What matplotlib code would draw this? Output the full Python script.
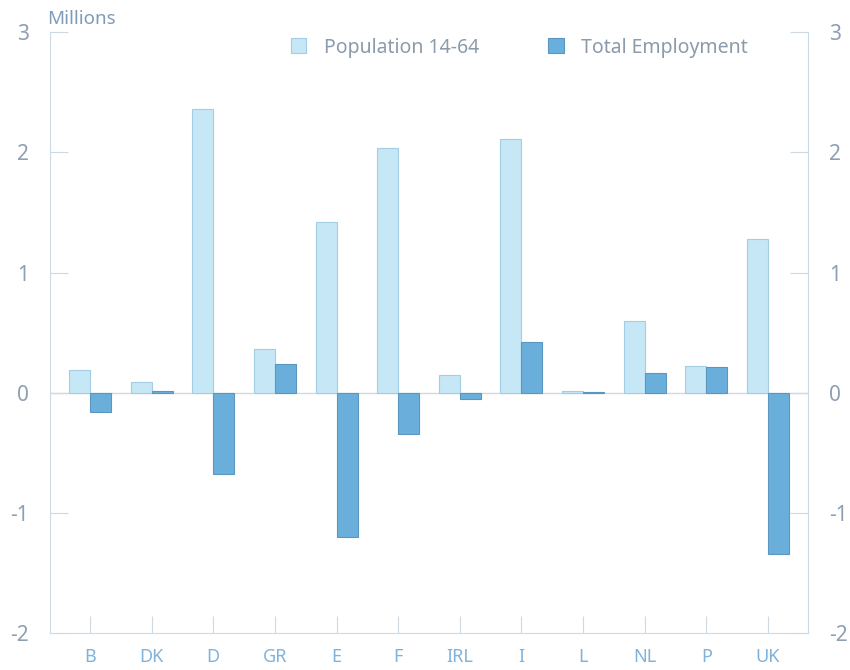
import numpy as np
import matplotlib.pyplot as plt

countries = ['B', 'DK', 'D', 'GR', 'E', 'F', 'IRL', 'I', 'L', 'NL', 'P', 'UK']
population = [0.19, 0.09, 2.36, 0.36, 1.42, 2.04, 0.15, 2.11, 0.01, 0.60, 0.22, 1.28]
employment = [-0.16, 0.01, -0.68, 0.24, -1.20, -0.34, -0.05, 0.42, 0.005, 0.16, 0.21, -1.34]

pop_color = '#c6e7f6'
pop_edge = '#a3cde3'
emp_color = '#6aafdb'
emp_edge = '#5a96c0'
axis_color = '#cdd9e3'
label_color = '#8d9fb3'

plt.rcParams['font.family'] = ['Noto Sans', 'DejaVu Sans']

fig = plt.figure(figsize=(8.5, 6.7), dpi=100)
ax = fig.add_axes([0.0588, 0.0552, 0.8918, 0.8968])

x = np.arange(len(countries))
w = 0.34
ax.bar(x - w / 2, population, w, color=pop_color, edgecolor=pop_edge, linewidth=0.8,
       label='Population 14-64', zorder=3)
ax.bar(x + w / 2, employment, w, color=emp_color, edgecolor=emp_edge, linewidth=0.8,
       label='Total Employment', zorder=3)

ax.axhline(0, color=axis_color, linewidth=1, zorder=2)
ax.set_xlim(-0.65, 11.65)
ax.set_ylim(-2, 3)
ax.set_xticks(x)
ax.set_xticklabels(countries)
ax.set_yticks([-2, -1, 0, 1, 2, 3])
ax.set_yticklabels(['-2', '-1', '0', '1', '2', '3'])

for s in ['left', 'right', 'bottom']:
    ax.spines[s].set_color(axis_color)
ax.spines['top'].set_visible(False)

ax.tick_params(axis='y', which='both', direction='in', length=13, color=axis_color,
               labelsize=15, labelcolor=label_color, left=True, right=True,
               labelleft=True, labelright=True, pad=15)
ax.tick_params(axis='x', direction='in', length=12, color=axis_color,
               labelsize=13, labelcolor='#7fb3db', pad=11)

fig.text(0.055, 0.972, 'Millions', fontsize=13.5, color='#7d9cb8', va='center', ha='left')

ax.legend(loc='upper right', bbox_to_anchor=(0.944, 1.02), ncol=2, frameon=False,
          fontsize=14, labelcolor='#8b9bab', handlelength=0.8, handleheight=0.8,
          columnspacing=3.55, handletextpad=0.9)

fig.savefig('out.png', dpi=100)
